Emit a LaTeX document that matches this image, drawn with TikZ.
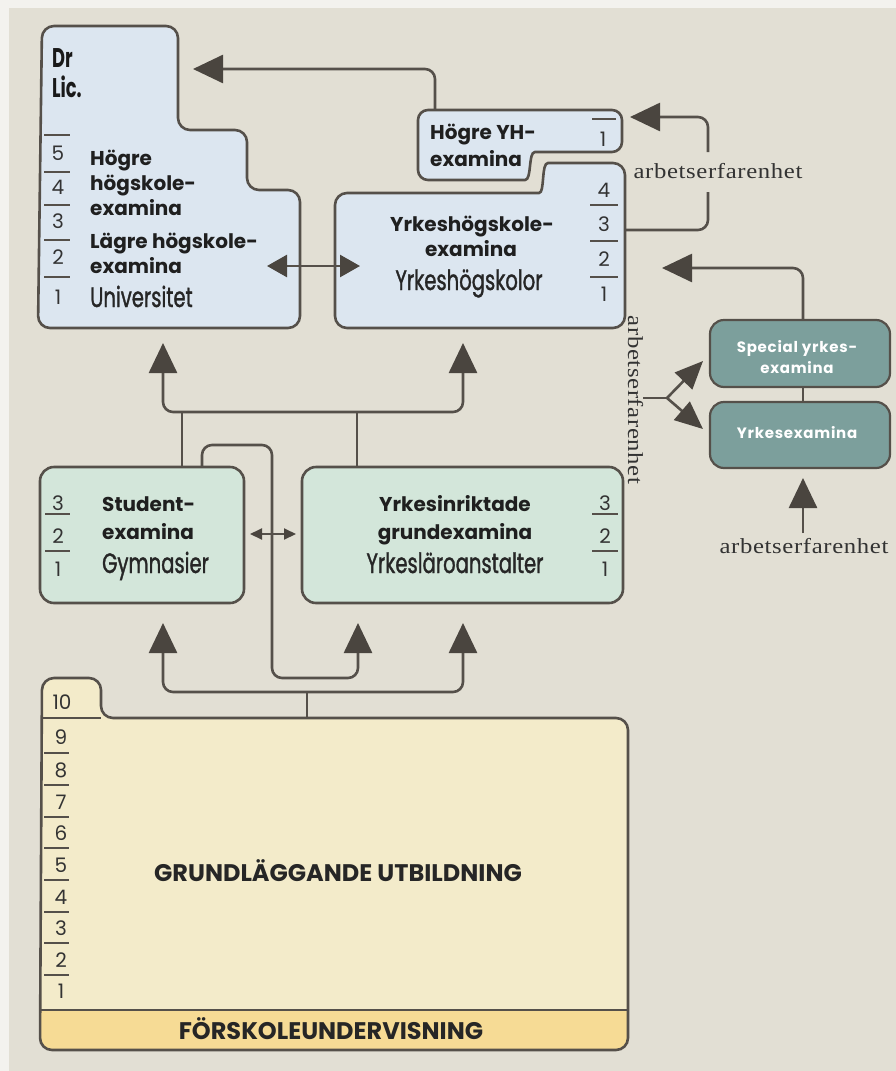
\documentclass[tikz,border=0pt]{standalone}
\usepackage{fontspec}
\setmainfont{Poppins}
\newfontfamily\cond[FakeStretch=0.70,FakeBold=1.2]{Poppins}
\newfontfamily\condb[FakeStretch=0.66]{Poppins}
\newfontfamily\wide[LetterSpace=5]{Poppins}
\newfontfamily\serw[FakeStretch=1.15,LetterSpace=3]{Liberation Serif}
\usetikzlibrary{arrows.meta}
\definecolor{bgc}{HTML}{E2DFD4}
\definecolor{edgec}{HTML}{F3F2EE}
\definecolor{lblue}{HTML}{DCE6F0}
\definecolor{lgreen}{HTML}{D3E6DA}
\definecolor{teal}{HTML}{7C9F9C}
\definecolor{cream}{HTML}{F3EBCA}
\definecolor{yel}{HTML}{F6DB95}
\definecolor{linec}{HTML}{55504A}
\definecolor{arrc}{HTML}{4A453F}
\tikzset{
  boxline/.style={draw=linec, line width=2.6pt},
  conn/.style={draw=linec, line width=2.6pt},
  bigtip/.tip={Triangle[length=30pt,width=28pt,fill=arrc,color=arrc]},
  midtip/.tip={Triangle[length=20pt,width=22pt,fill=arrc,color=arrc]},
  smalltip/.tip={Triangle[length=12pt,width=11pt,fill=arrc,color=arrc]},
  forktip/.tip={Triangle[length=28pt,width=24pt,fill=arrc,color=arrc]},
  lbl/.style={font=\fontsize{20}{22}\selectfont\bfseries, inner sep=0pt, text=black!88},
  cnd/.style={font=\cond\fontsize{28}{30}\selectfont, inner sep=0pt, text=black!85},
  cndb/.style={font=\condb\fontsize{27}{30}\selectfont\bfseries, inner sep=0pt, text=black!90},
  num/.style={font=\fontsize{20}{22}\selectfont, inner sep=0pt, text=black!80},
  tick/.style={draw=linec, line width=1.6pt},
  serl/.style={font=\serw\fontsize{21.5}{23}\selectfont, inner sep=0pt, text=black!80},
  wlbl/.style={font=\wide\fontsize{15}{17}\selectfont\bfseries, inner sep=0pt, text=white},
  capl/.style={font=\fontsize{24}{26}\selectfont\bfseries, inner sep=0pt, text=black!85},
}
\begin{document}
\begin{tikzpicture}[x=1pt,y=-1pt]
\useasboundingbox (0,0) rectangle (896,1071);
\fill[edgec] (0,0) rectangle (896,1071);
\fill[bgc] (9,8) rectangle (896,1071);

% ---------- Universitet box ----------
\draw[boxline, fill=lblue, rounded corners=12pt] (42,26) -- (178,26) -- (178,130) -- (247,130) -- (247,190) -- (300,190) -- (300,328) -- (38,328) -- cycle;
\node[cndb, anchor=base west] (dr) at (52,67) {Dr};
\node[cndb, anchor=base west] (lic) at (52,97) {Lic.};
\foreach \y in {135,172,205,240,277} \draw[tick] (44,\y) -- (70,\y);
\node[num, anchor=base] (u5) at (58,160) {5};
\node[num, anchor=base] (u4) at (58,194) {4};
\node[num, anchor=base] (u3) at (58,228) {3};
\node[num, anchor=base] (u2) at (58,264) {2};
\node[num, anchor=base] (u1) at (58,304) {1};
\node[lbl, anchor=base west] (ut1) at (90,165) {Högre};
\node[lbl, anchor=base west] (ut2) at (90,190) {högskole-};
\node[lbl, anchor=base west] (ut3) at (90,215) {examina};
\node[lbl, anchor=base west] (ut4) at (90,248) {Lägre högskole-};
\node[lbl, anchor=base west] (ut5) at (90,273) {examina};
\node[cnd, anchor=base west] (ut6) at (90,307) {Universitet};

% ---------- Högre YH box ----------
\draw[boxline, fill=lblue, rounded corners=10pt] (418,110) -- (622,110) -- (622,152) -- (545,152) .. controls (528,152) and (532,180) .. (515,180) -- (418,180) -- cycle;
\draw[tick] (592,119) -- (616,119);
\node[num, anchor=base] (yh1) at (603,146) {1};
\node[lbl, anchor=base west] (yht1) at (430,139) {Högre YH-};
\node[lbl, anchor=base west] (yht2) at (430,166) {examina};

% ---------- Yrkeshögskole box ----------
\draw[boxline, fill=lblue, rounded corners=12pt] (335,193) -- (527,193) .. controls (545,193) and (541,163) .. (560,163) -- (625,163) -- (625,328) -- (335,328) -- cycle;
\foreach \y in {205,241,277} \draw[tick] (590,\y) -- (618,\y);
\node[num, anchor=base] (y4) at (604,197) {4};
\node[num, anchor=base] (y3) at (604,231) {3};
\node[num, anchor=base] (y2) at (604,266) {2};
\node[num, anchor=base] (y1) at (604,301) {1};
\node[lbl, anchor=base] (yt1) at (472,231) {Yrkeshögskole-};
\node[lbl, anchor=base] (yt2) at (471,256) {examina};
\node[cnd, anchor=base] (yt3) at (469,290) {Yrkeshögskolor};

% ---------- Gymnasier box ----------
\draw[boxline, fill=lgreen, rounded corners=14pt] (40,467) rectangle (244,603);
\foreach \y in {514,551} \draw[tick] (45,\y) -- (70,\y);
\node[num, anchor=base] (g3) at (58,510) {3};
\node[num, anchor=base] (g2) at (58,543) {2};
\node[num, anchor=base] (g1) at (58,576) {1};
\node[lbl, anchor=base west] (gt1) at (102,511) {Student-};
\node[lbl, anchor=base west] (gt2) at (102,539) {examina};
\node[cnd, anchor=base west] (gt3) at (102,573) {Gymnasier};

% ---------- Yrkesinriktade box ----------
\draw[boxline, fill=lgreen, rounded corners=14pt] (302,467) rectangle (623,603);
\foreach \y in {514,551} \draw[tick] (592,\y) -- (618,\y);
\node[num, anchor=base] (r3) at (605,510) {3};
\node[num, anchor=base] (r2) at (605,543) {2};
\node[num, anchor=base] (r1) at (605,576) {1};
\node[lbl, anchor=base] (rt1) at (455,511) {Yrkesinriktade};
\node[lbl, anchor=base] (rt2) at (455,539) {grundexamina};
\node[cnd, anchor=base] (rt3) at (455,573) {Yrkesläroanstalter};

% ---------- Special / Yrkesexamina ----------
\draw[draw=linec, line width=2.2pt, fill=teal, rounded corners=14pt] (710,320) rectangle (890,387);
\draw[draw=linec, line width=2.2pt, fill=teal, rounded corners=14pt] (710,402) rectangle (890,468);
\node[wlbl, anchor=base] (sp1) at (797,352) {Special yrkes-};
\node[wlbl, anchor=base] (sp2) at (797,373) {examina};
\node[wlbl, anchor=base] (ye1) at (797,438) {Yrkesexamina};

% ---------- Grundläggande box ----------
\begin{scope}
\clip[rounded corners=12pt] (40,1050) -- (42,678) -- (101,678) -- (101,718) -- (628,718) -- (628,1050) -- cycle;
\fill[cream] (0,600) rectangle (700,1071);
\fill[yel] (0,1010) rectangle (700,1071);
\end{scope}
\draw[linec, line width=2.4pt] (40,1010) -- (628,1010);
\draw[linec, line width=2.4pt] (42,718) -- (101,718);
\draw[boxline, rounded corners=12pt] (40,1050) -- (42,678) -- (101,678) -- (101,718) -- (628,718) -- (628,1050) -- cycle;
\node[num, anchor=base] (n10) at (62,709) {10};
\foreach \y in {753,785,817,848,880,912,943,975} \draw[tick] (44,\y) -- (69,\y);
\node[num, anchor=base] (n9) at (61,744) {9};
\node[num, anchor=base] (n8) at (61,777) {8};
\node[num, anchor=base] (n7) at (61,809) {7};
\node[num, anchor=base] (n6) at (61,840) {6};
\node[num, anchor=base] (n5) at (61,872) {5};
\node[num, anchor=base] (n4) at (61,904) {4};
\node[num, anchor=base] (n3) at (61,935) {3};
\node[num, anchor=base] (n2) at (61,967) {2};
\node[num, anchor=base] (n1) at (61,998) {1};
\node[capl, anchor=base] (grund) at (338,881) {GRUNDLÄGGANDE UTBILDNING};
\node[capl, anchor=base] (forsk) at (331,1039) {FÖRSKOLEUNDERVISNING};

% ---------- labels ----------
\node[serl, anchor=base] (ae1) at (718,178) {arbetserfarenhet};
\node[serl, anchor=base, rotate=-90] (ae2) at (628,400) {arbetserfarenhet};
\node[serl, anchor=base] (ae3) at (804,553) {arbetserfarenhet};

% ---------- coordinates ----------
\coordinate (uTipL) at (163,343);
\coordinate (uTipR) at (463,343);
\coordinate (busU) at (0,412);
\coordinate (gymA) at (182,467);
\coordinate (yrkA) at (357,467);
\coordinate (gymB) at (202,467);
\coordinate (loopT) at (272,445);
\coordinate (loopB) at (272,678);
\coordinate (lTipM) at (358,623);
\coordinate (lTipL) at (163,623);
\coordinate (lTipR) at (463,623);
\coordinate (busL) at (0,692);
\coordinate (grTop) at (307,718);
\coordinate (yhTop) at (435,110);
\coordinate (drTip) at (193,69);
\coordinate (yrkR) at (625,230);
\coordinate (kneeR) at (708,230);
\coordinate (gapB) at (708,192);
\coordinate (gapT) at (708,152);
\coordinate (kneeT) at (708,117);
\coordinate (yhTip) at (630,117);
\coordinate (spTop) at (803,320);
\coordinate (spKnee) at (803,268);
\coordinate (spTip) at (662,268);
\coordinate (spBot) at (803,387);
\coordinate (yeTop) at (803,402);
\coordinate (yeTip) at (803,478);
\coordinate (aeTop) at (803,533);
\coordinate (fk0) at (643,398);
\coordinate (fk1) at (667,398);
\coordinate (fkU) at (703,361);
\coordinate (fkD) at (703,429);
\coordinate (dU1) at (267,266);
\coordinate (dU2) at (360,266);
\coordinate (dG1) at (250,534);
\coordinate (dG2) at (296,534);

% ---------- connectors ----------
\draw[conn, rounded corners=10pt, {bigtip}-{bigtip}] (uTipL) -- (uTipL|-busU) -- (uTipR|-busU) -- (uTipR);
\draw[conn] (gymA) -- (gymA|-busU);
\draw[conn] (yrkA) -- (yrkA|-busU);
\draw[conn, rounded corners=10pt, -{bigtip}] (gymB) -- (gymB|-loopT) -- (loopT) -- (loopB) -- (lTipM|-loopB) -- (lTipM);
\draw[conn, rounded corners=10pt, {bigtip}-{bigtip}] (lTipL) -- (lTipL|-busL) -- (lTipR|-busL) -- (lTipR);
\draw[conn] (grTop) -- (grTop|-busL);
\draw[conn, rounded corners=10pt, -{bigtip}] (yhTop) -- (yhTop|-drTip) -- (drTip);
\draw[conn, rounded corners=10pt] (yrkR) -- (kneeR) -- (gapB);
\draw[conn, rounded corners=10pt, -{bigtip}] (gapT) -- (kneeT) -- (yhTip);
\draw[conn, rounded corners=10pt, -{bigtip}] (spTop) -- (spKnee) -- (spTip);
\draw[conn] (spBot) -- (yeTop);
\draw[conn, -{bigtip}] (aeTop) -- (yeTip);
\draw[conn] (fk0) -- (fk1);
\draw[conn, -{forktip}] (fk1) -- (fkU);
\draw[conn, -{forktip}] (fk1) -- (fkD);
\draw[conn, {midtip}-{midtip}] (dU1) -- (dU2);
\draw[conn, line width=2pt, {smalltip}-{smalltip}] (dG1) -- (dG2);
\end{tikzpicture}
\end{document}
